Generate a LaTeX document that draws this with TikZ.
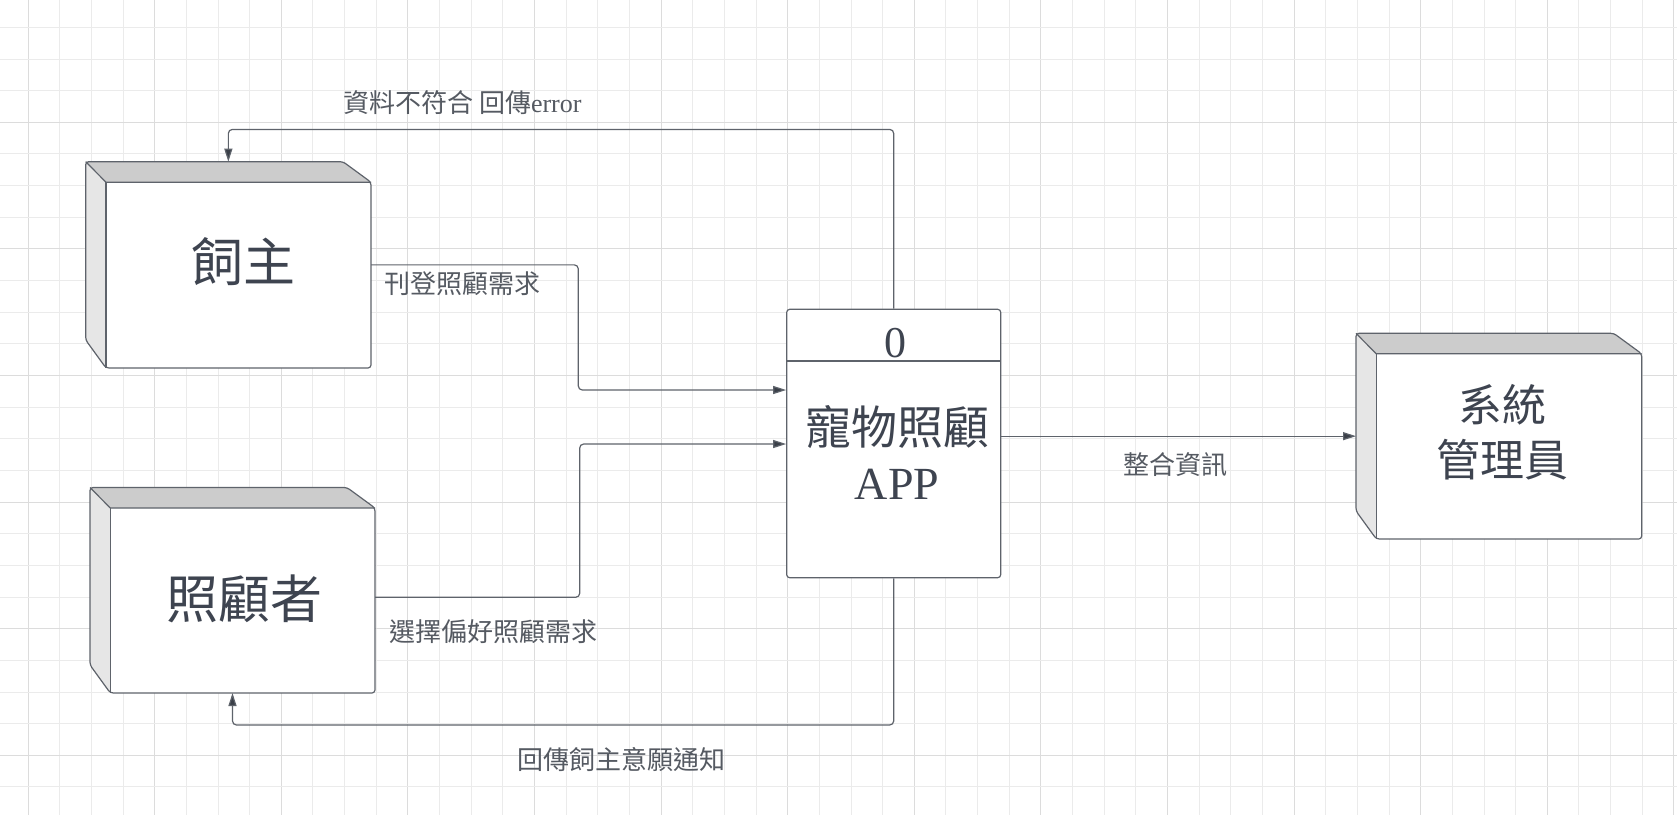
\documentclass[tikz,border=0pt]{standalone}
\usepackage{fontspec}
\setmainfont{Liberation Serif}
\newfontfamily\cjk{Noto Sans CJK TC}
\usetikzlibrary{arrows.meta,calc}
\definecolor{gridminor}{HTML}{EBEBEB}
\definecolor{gridmajor}{HTML}{DCDCDC}
\definecolor{edgecol}{HTML}{5E636B}
\definecolor{topface}{HTML}{CCCCCC}
\definecolor{sideface}{HTML}{E6E6E6}
\definecolor{boxtext}{HTML}{3E4450}
\definecolor{lbltext}{HTML}{555A62}
\definecolor{tipcol}{HTML}{3A3F48}
\newcommand\entitybox[1]{%
  \fill[white] ($(#1.north west)+(20.3,20.5)$) rectangle (#1.south east);
  \fill[topface] (#1.north west) -- ($(#1.north east)+(-28,0)$) -- ($(#1.north east)+(0,20.5)$) -- ($(#1.north west)+(20.3,20.5)$) -- cycle;
  \fill[sideface] (#1.north west) -- ($(#1.north west)+(20.3,20.5)$) -- ($(#1.south west)+(20.3,0)$) -- ($(#1.south west)+(0,-28)$) -- cycle;
  \draw[outl, rounded corners=3pt] (#1.north west) -- ($(#1.north east)+(-28,0)$) -- ($(#1.north east)+(0,20.5)$) -- (#1.south east) -- ($(#1.south west)+(20.3,0)$) -- ($(#1.south west)+(0,-28)$) -- cycle;
  \draw[outl] (#1.north west) -- ($(#1.north west)+(20.3,20.5)$) -- ($(#1.north east)+(0,20.5)$);
  \draw[outl] ($(#1.north west)+(20.3,20.5)$) -- ($(#1.south west)+(20.3,0)$);
}
\begin{document}
\begin{tikzpicture}[x=1pt,y=-1pt,
  outl/.style={draw=edgecol, line width=1.2pt, line join=round},
  ent/.style={inner sep=0pt, outer sep=0pt},
  bigtxt/.style={text=boxtext, inner sep=0pt, align=center},
  lbl/.style={text=lbltext, font=\fontsize{26}{30}\selectfont, inner sep=0pt, anchor=west},
  flow/.style={draw=edgecol, line width=1.2pt, rounded corners=4pt, -{Triangle[length=13pt,width=8pt,fill=tipcol]}}]
\useasboundingbox (0,0) rectangle (1677,815);
\fill[white] (0,0) rectangle (1677,815);
% grid
\foreach \k in {0,...,52}{
  \pgfmathtruncatemacro\m{mod(\k,4)}
  \ifnum\m=0 \def\gc{gridmajor}\else\def\gc{gridminor}\fi
  \draw[draw=\gc, line width=1pt] ({28.1+31.65*\k},0) -- ({28.1+31.65*\k},815);
}
\foreach \k in {-3,...,21}{
  \pgfmathtruncatemacro\m{mod(\k,4)}
  \ifnum\m=0 \def\gc{gridmajor}\else\def\gc{gridminor}\fi
  \draw[draw=\gc, line width=1pt] (0,{122.3+31.65*\k}) -- (1677,{122.3+31.65*\k});
}
% entity boxes
\node[ent, minimum width=285.3pt, minimum height=206.3pt] (owner) at (228.35,264.85) {};
\node[ent, minimum width=285pt, minimum height=205.5pt] (carer) at (232.5,590.25) {};
\node[ent, minimum width=285.7pt, minimum height=205.7pt] (admin) at (1498.85,436.15) {};
\entitybox{owner}
\entitybox{carer}
\entitybox{admin}
\node[bigtxt, font=\fontsize{52}{60}\selectfont\cjk] (ownertxt) at (243,262) {飼主};
\node[bigtxt, font=\fontsize{52}{60}\selectfont\cjk] (carertxt) at (244.4,599) {照顧者};
\node[bigtxt, font=\fontsize{44}{55}\selectfont\cjk] (admintxt) at (1502,432.5) {系統\\管理員};
% process
\node[draw=edgecol, line width=1.2pt, rounded corners=3pt, fill=white, minimum width=214pt, minimum height=268.4pt, inner sep=0pt] (proc) at (893.7,443.5) {};
\coordinate (dv) at (0,361);
\draw[outl] (proc.west |- dv) -- (proc.east |- dv);
\node[bigtxt, font=\fontsize{44}{50}\selectfont] (procnum) at (895,343) {0};
\node[bigtxt, font=\fontsize{46}{55}\selectfont] (proctxt) at (897,452.5) {{\cjk 寵物照顧}\\APP};
% connectors
\coordinate (b1) at (578.3,390);
\coordinate (s2) at (0,597.3);
\coordinate (b2) at (579.7,444);
\coordinate (b3) at (0,725);
\coordinate (b4) at (0,129.4);
\draw[flow] (owner.east) -| (b1) -- (proc.west |- b1);
\draw[flow] (carer.east |- s2) -| (b2) -- (proc.west |- b2);
\draw[flow] (proc.south) -- (proc.south |- b3) -- (carer.south |- b3) -- (carer.south);
\draw[flow] (proc.north) -- (proc.north |- b4) -- (owner.north |- b4) -- (owner.north);
\draw[flow] (proc.east |- admin.west) -- (admin.west);
% labels
\node[lbl] (l1) at (384,283.3) {{\cjk 刊登照顧需求}};
\node[lbl] (l2) at (389,631.7) {{\cjk 選擇偏好照顧需求}};
\node[lbl] (l3) at (517,760) {{\cjk 回傳飼主意願通知}};
\node[lbl] (l4) at (343,102.7) {{\cjk 資料不符合 回傳}error};
\node[lbl] (l5) at (1123,465) {{\cjk 整合資訊}};
\end{tikzpicture}
\end{document}
